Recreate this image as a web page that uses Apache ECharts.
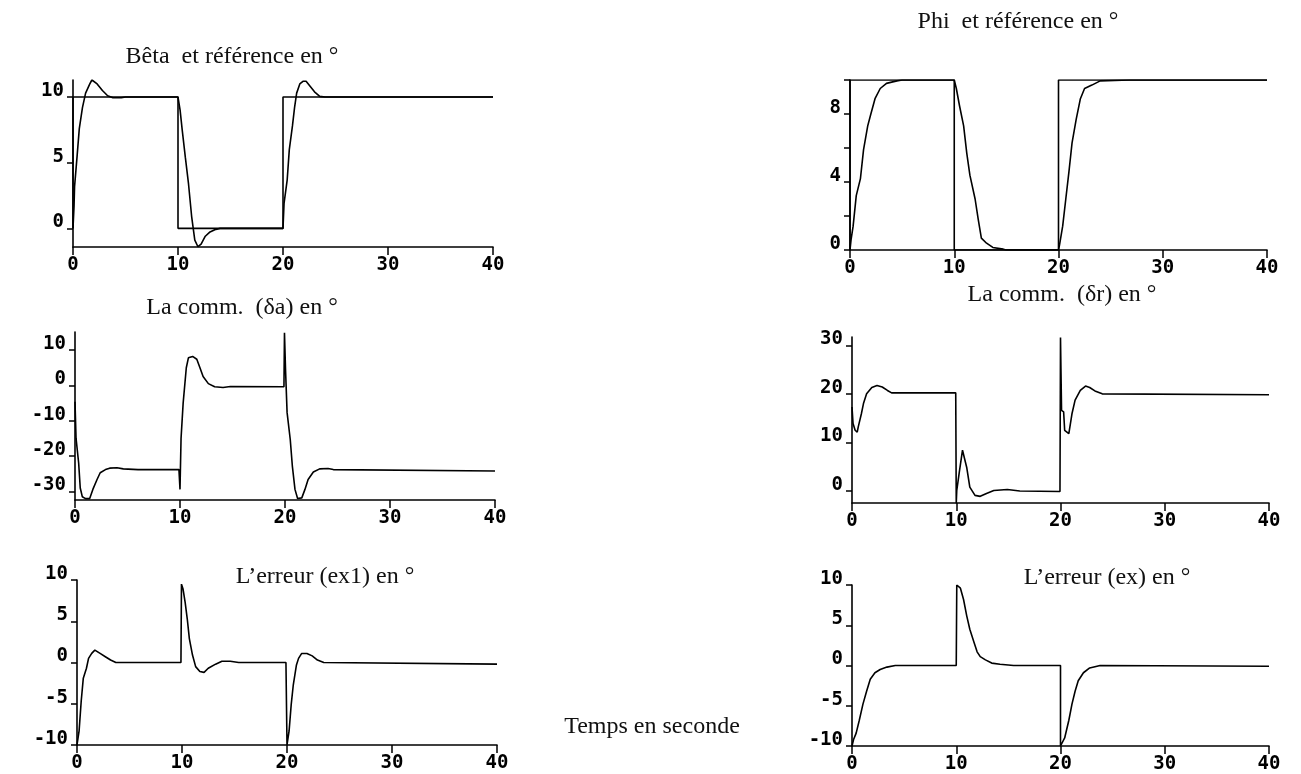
<!DOCTYPE html>
<html>
<head>
<meta charset="utf-8">
<script src="https://cdn.jsdelivr.net/npm/echarts@6/dist/echarts.min.js"></script>
<style>
html,body{margin:0;padding:0;background:#fff;}
#c{width:1301px;height:774px;}
</style>
</head>
<body>
<div id="c"></div>
<script>
// ---- data (time in s, value in degrees) ----
const titles = ["Bêta  et référence en °", "Phi  et référence en °", "La comm.  (δa) en °", "La comm.  (δr) en °", "L’erreur (ex1) en °", "L’erreur (ex) en °"];
const xlabel = "Temps en seconde";
const xTicks = [0, 10, 20, 30, 40];

const refSquare = [[0,0],[0,10],[10,10],[10,0],[20,0],[20,10],[40,10]];

const beta = [[0,0],[0.1,1.7],[0.15,3.2],[0.4,5.6],[0.6,7.6],[0.9,9.2],[1.2,10.3],[1.6,11.0],[1.8,11.3],[2.3,11.0],[2.8,10.5],[3.3,10.1],[3.8,9.95],[4.6,9.95],[5,10],[10,10],[10.2,9],[10.4,7.5],[10.7,5.4],[11,3.4],[11.3,0.9],[11.6,-0.9],[11.9,-1.4],[12.2,-1.2],[12.6,-0.6],[13,-0.3],[13.5,-0.1],[14,0],[20,0],[20.1,1.9],[20.4,3.7],[20.6,6],[20.9,7.8],[21.1,9.2],[21.3,10.3],[21.6,11],[21.9,11.2],[22.2,11.2],[22.6,10.8],[23,10.4],[23.5,10.05],[24,10],[40,10]];

const phi = [[0,0],[0.1,0.6],[0.3,1.4],[0.6,3.2],[1,4.2],[1.3,5.9],[1.7,7.3],[2,8],[2.4,8.9],[2.9,9.5],[3.5,9.8],[4.5,9.95],[5,10],[10,10],[10.2,9.5],[10.5,8.5],[10.9,7.3],[11.2,5.7],[11.5,4.4],[12,3],[12.3,1.8],[12.6,0.7],[13.1,0.4],[13.7,0.15],[14.7,0.05],[15,0],[20,0],[20.1,0.3],[20.4,1.4],[20.7,3],[21,4.6],[21.3,6.3],[21.7,7.7],[22.1,8.9],[22.5,9.5],[23.2,9.7],[24,9.95],[26.8,10],[40,10]];

const deltaA = [[0,-4.6],[0.1,-15],[0.35,-22],[0.5,-29],[0.7,-31.5],[1.0,-32],[1.4,-32],[1.7,-29.4],[2.1,-26.6],[2.4,-24.7],[2.9,-23.8],[3.3,-23.4],[4.0,-23.3],[4.6,-23.6],[6,-23.8],[9.9,-23.8],[10,-29.4],[10.1,-15],[10.3,-5],[10.6,5],[10.8,7.8],[11.2,8.2],[11.6,7.4],[11.9,5],[12.2,2.5],[12.7,0.5],[13.3,-0.4],[14.1,-0.6],[14.8,-0.3],[19.9,-0.4],[19.95,14.9],[20.05,4.5],[20.2,-7.7],[20.5,-15.3],[20.7,-22.8],[20.95,-29.4],[21.2,-32],[21.6,-31.8],[21.9,-29.4],[22.2,-26.6],[22.7,-24.5],[23.3,-23.6],[24.1,-23.5],[24.6,-23.8],[40,-24.2]];

const deltaR = [[0,17.3],[0.1,13.9],[0.3,12.5],[0.5,12.1],[0.6,13.2],[0.9,15.9],[1.1,18],[1.4,20],[1.9,21.3],[2.4,21.7],[2.9,21.4],[3.4,20.7],[3.8,20.2],[9.95,20.2],[10,-2.5],[10.05,0.1],[10.3,4],[10.6,8.4],[11,4.9],[11.3,0.8],[11.8,-0.9],[12.3,-1.1],[12.9,-0.5],[13.6,0.1],[14.9,0.3],[16.1,0],[19.95,-0.1],[20,31.6],[20.05,24.2],[20.1,16.6],[20.3,16.3],[20.4,12.5],[20.8,11.8],[21.1,15.9],[21.4,18.7],[21.9,20.7],[22.4,21.6],[22.8,21.3],[23.3,20.6],[24,20],[40,19.8]];

const ex1 = [[0,-10],[0.2,-8.3],[0.4,-4.7],[0.6,-1.9],[0.9,-0.7],[1.1,0.5],[1.4,1.1],[1.7,1.5],[2.2,1.1],[2.7,0.7],[3.2,0.3],[3.7,0],[9.9,0],[9.95,9.5],[10.1,8.9],[10.3,7.3],[10.5,5.3],[10.7,2.9],[11,0.9],[11.3,-0.5],[11.7,-1.1],[12.1,-1.2],[12.5,-0.7],[13.2,-0.2],[13.8,0.15],[14.6,0.15],[15.4,0],[19.9,0],[20,-10],[20.2,-8.3],[20.4,-5.1],[20.6,-2.7],[20.9,-0.3],[21.1,0.5],[21.4,1.1],[21.9,1.1],[22.4,0.8],[22.9,0.3],[23.5,0],[40,-0.2]];

const ex = [[0,-10],[0.15,-9.2],[0.4,-8.4],[0.7,-6.8],[1.05,-4.8],[1.4,-3.2],[1.75,-1.7],[2.2,-0.9],[2.7,-0.5],[3.35,-0.2],[4.15,0],[10,0],[10.05,10],[10.4,9.6],[10.7,8.2],[11,6.2],[11.3,4.5],[11.7,2.9],[12,1.7],[12.3,1.1],[12.8,0.7],[13.4,0.3],[14.2,0.15],[15.5,0],[20,0],[20,-10],[20.4,-9],[20.8,-6.8],[21.1,-4.8],[21.4,-3.2],[21.7,-1.9],[22.2,-0.9],[22.8,-0.3],[23.8,0],[40,-0.1]];

const yTicks = [[0,5,10],[0,2,4,6,8,10],[-30,-20,-10,0,10],[0,10,20,30],[-10,-5,0,5,10],[-10,-5,0,5,10]];
const yLabels = [[0,5,10],[0,4,8],[-30,-20,-10,0,10],[0,10,20,30],[-10,-5,0,5,10],[-10,-5,0,5,10]];
const yRange = [[-1.42,11.3],[0,10],[-32.4,15.1],[-2.47,31.7],[-10,10],[-10,10]];

// ---- layout ----
const grids = [
  {left:73, top:80, width:420, height:167},
  {left:850, top:80, width:417, height:170},
  {left:75, top:332, width:420, height:168},
  {left:852, top:337, width:417, height:166},
  {left:77, top:580, width:420, height:165},
  {left:852, top:585, width:417, height:163}
];
const titlePos = [[232,57],[1018,22],[242,308],[1062,295],[325,577],[1107,578]];

const tickFont = {fontFamily:'DejaVu Sans Mono', fontWeight:'bold', fontSize:19, color:'#000'};
const axisLine = {show:true, onZero:false, lineStyle:{color:'#000', width:1.6}};

const xAxis = grids.map((g,i)=>({
  type:'value', gridIndex:i, min:0, max:40, interval:10,
  axisLine:axisLine,
  axisTick:{show:true, length:8, lineStyle:{color:'#000', width:1.5}},
  axisLabel:Object.assign({margin:9}, tickFont),
  splitLine:{show:false}
}));
const yAxis = grids.map((g,i)=>({
  type:'value', gridIndex:i, min:yRange[i][0], max:yRange[i][1],
  axisLine:axisLine,
  axisTick:{show:true, length:6, customValues:yTicks[i], lineStyle:{color:'#000', width:1.5}},
  axisLabel:Object.assign({margin:9, customValues:yLabels[i], verticalAlign:'bottom', lineHeight:12}, tickFont),
  splitLine:{show:false}
}));

const lineStyle = {color:'#000', width:1.6};
function line(data, i){
  return {type:'line', xAxisIndex:i, yAxisIndex:i, data:data, symbol:'none', lineStyle:lineStyle, silent:true};
}
const series = [
  line(refSquare,0), line(beta,0),
  line(refSquare,1), line(phi,1),
  line(deltaA,2), line(deltaR,3),
  line(ex1,4), line(ex,5)
];

const titleFont = '24px "Liberation Serif", "Times New Roman", serif';
const graphic = titles.map((t,i)=>({
  type:'text', x:titlePos[i][0], y:titlePos[i][1], silent:true,
  style:{text:t, font:titleFont, fill:'#111', align:'center', verticalAlign:'middle'}
}));
graphic.push({type:'text', x:652, y:727, silent:true,
  style:{text:xlabel, font:titleFont, fill:'#111', align:'center', verticalAlign:'middle'}});

const chart = echarts.init(document.getElementById('c'), null, {renderer:'canvas'});
chart.setOption({
  backgroundColor:'#fff',
  animation:false,
  grid:grids.map(g=>Object.assign({containLabel:false}, g)),
  xAxis:xAxis, yAxis:yAxis, series:series, graphic:graphic
});
</script>
</body>
</html>
